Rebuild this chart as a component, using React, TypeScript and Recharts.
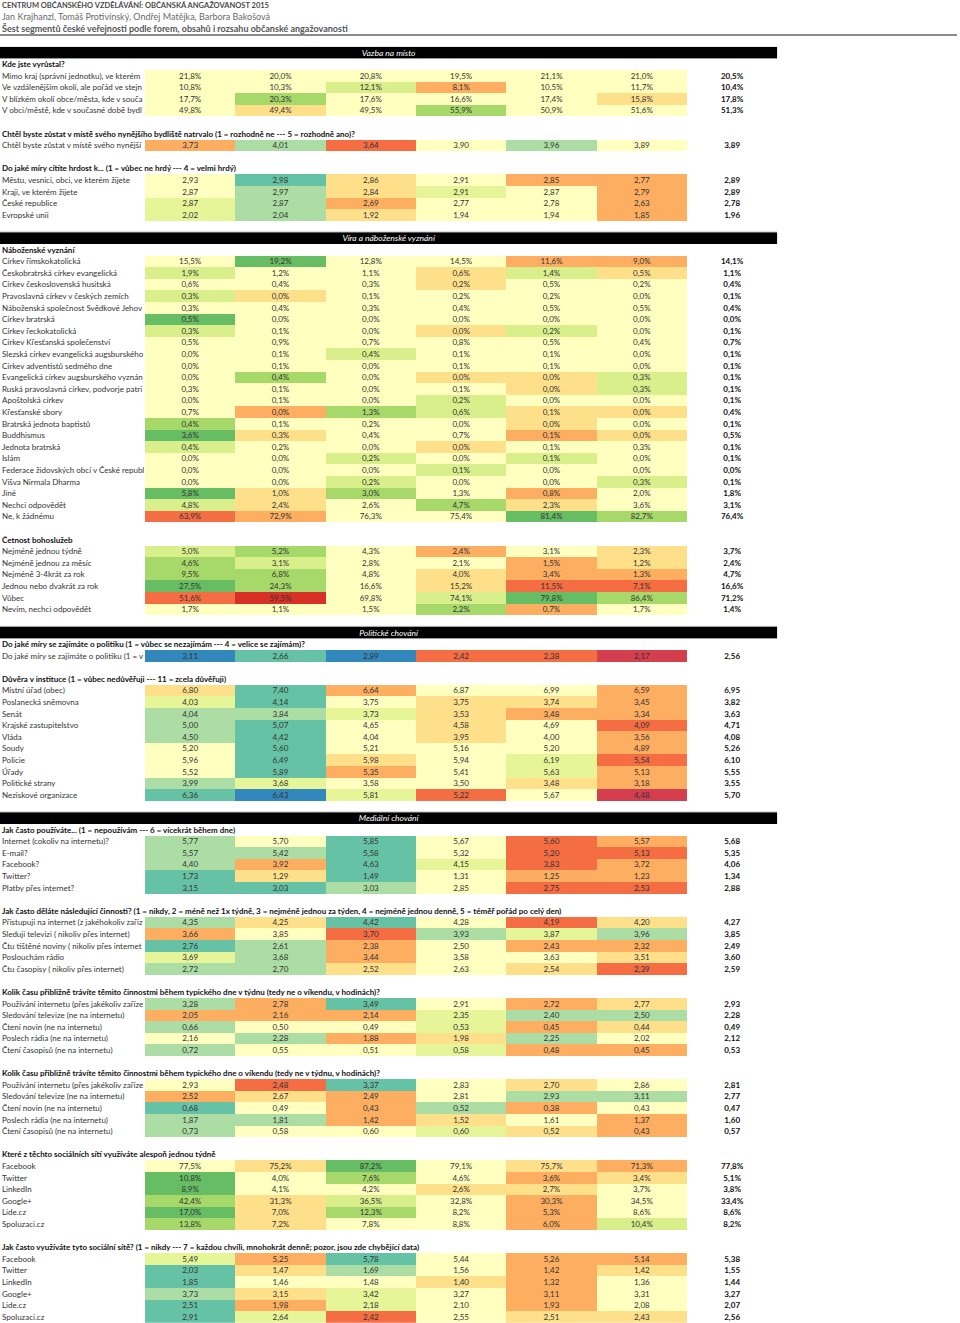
import React from 'react';
import { ScatterChart, Scatter, XAxis, YAxis } from 'recharts';

const FONT = 'Lato, "Noto Sans", sans-serif';

// Row labels are kept as the sheet shows them (cut at the first cell).

// ---- Vazba na místo
const grewUpLabels = [
  'Mimo kraj (správní jednotku), ve kterém',
  'Ve vzdálenějším okolí, ale pořád ve stejn',
  'V blízkém okolí obce/města, kde v souča',
  'V obci/městě, kde v současné době bydl',
];
const grewUpValues = [
  [21.8, 20.0, 20.8, 19.5, 21.1, 21.0],
  [10.8, 10.3, 12.1, 8.1, 10.5, 11.7],
  [17.7, 20.3, 17.6, 16.6, 17.4, 15.8],
  [49.8, 49.4, 49.5, 55.9, 50.9, 51.6],
];
const grewUpTotals = [20.5, 10.4, 17.8, 51.3];
const grewUpLevels = [
  [0, 0, 0, 0, 0, 0],
  [0, 0, 1, -2, 0, 0],
  [0, 2, 0, 0, 0, -1],
  [0, -1, 0, 2, 0, 0],
];

const stayLabels = ['Chtěl byste zůstat v místě svého nynější'];
const stayValues = [[3.73, 4.01, 3.64, 3.9, 3.96, 3.89]];
const stayTotals = [3.89];
const stayLevels = [[-2, 2, -3, 0, 2, 0]];

const prideLabels = ['Městu, vesnici, obci, ve kterém žijete', 'Kraji, ve kterém žijete', 'České republice', 'Evropské unii'];
const prideValues = [
  [2.93, 2.98, 2.86, 2.91, 2.85, 2.77],
  [2.87, 2.97, 2.84, 2.91, 2.87, 2.79],
  [2.87, 2.87, 2.69, 2.77, 2.78, 2.63],
  [2.02, 2.04, 1.92, 1.94, 1.94, 1.85],
];
const prideTotals = [2.89, 2.89, 2.78, 1.96];
const prideLevels = [
  [0, 3, -1, 0, -2, -2],
  [0, 2, -1, 1, 0, -2],
  [1, 2, -2, 0, 0, -2],
  [1, 2, -1, 0, 0, -2],
];

// ---- Víra a náboženské vyznání
const faithLabels = [
  'Církev římskokatolická',
  'Českobratrská církev evangelická',
  'Církev československá husitská',
  'Pravoslavná církev v českých zemích',
  'Náboženská společnost Svědkové Jehov',
  'Církev bratrská',
  'Církev řeckokatolická',
  'Církev Křesťanská společenství',
  'Slezská církev evangelická augsburského',
  'Církev adventistů sedmého dne',
  'Evangelická církev augsburského vyznán',
  'Ruská pravoslavná církev, podvorje patri',
  'Apoštolská církev',
  'Křesťanské sbory',
  'Bratrská jednota baptistů',
  'Buddhismus',
  'Jednota bratrská',
  'Islám',
  'Federace židovských obcí v České republ',
  'Višva Nirmala Dharma',
  'Jiné',
  'Nechci odpovědět',
  'Ne, k žádnému',
];
const faithValues = [
  [15.5, 19.2, 12.8, 14.5, 11.6, 9.0],
  [1.9, 1.2, 1.1, 0.6, 1.4, 0.5],
  [0.6, 0.4, 0.3, 0.2, 0.5, 0.2],
  [0.3, 0.0, 0.1, 0.2, 0.2, 0.0],
  [0.3, 0.4, 0.3, 0.4, 0.5, 0.5],
  [0.5, 0.0, 0.0, 0.0, 0.0, 0.0],
  [0.3, 0.1, 0.0, 0.0, 0.2, 0.0],
  [0.5, 0.9, 0.7, 0.8, 0.5, 0.4],
  [0.0, 0.1, 0.4, 0.1, 0.1, 0.0],
  [0.0, 0.1, 0.0, 0.1, 0.1, 0.0],
  [0.0, 0.4, 0.0, 0.0, 0.0, 0.3],
  [0.3, 0.1, 0.0, 0.1, 0.0, 0.3],
  [0.0, 0.1, 0.0, 0.2, 0.0, 0.0],
  [0.7, 0.0, 1.3, 0.6, 0.1, 0.0],
  [0.4, 0.1, 0.2, 0.0, 0.0, 0.0],
  [3.6, 0.3, 0.4, 0.7, 0.1, 0.0],
  [0.4, 0.2, 0.0, 0.0, 0.1, 0.3],
  [0.0, 0.0, 0.2, 0.0, 0.1, 0.0],
  [0.0, 0.0, 0.0, 0.1, 0.0, 0.0],
  [0.0, 0.0, 0.2, 0.0, 0.0, 0.3],
  [5.8, 1.0, 3.0, 1.3, 0.8, 2.0],
  [4.8, 2.4, 2.6, 4.7, 2.3, 3.6],
  [63.9, 72.9, 76.3, 75.4, 81.4, 82.7],
];
const faithTotals = [14.1, 1.1, 0.4, 0.1, 0.4, 0.0, 0.1, 0.7, 0.1, 0.1, 0.1, 0.1, 0.1, 0.4, 0.1, 0.5, 0.1, 0.1, 0.0, 0.1, 1.8, 3.1, 76.4];
const faithLevels = [
  [0, 3, 0, 0, -2, -2],
  [1, 0, 0, -1, 1, -1],
  [0, 0, 0, -1, 0, 0],
  [1, -1, 0, 0, 0, 0],
  [0, 0, 0, 0, 0, 0],
  [3, 0, 0, 0, 0, 0],
  [1, 0, 0, -1, 1, 0],
  [0, 0, 0, 0, 0, 0],
  [0, 0, 1, 0, 0, 0],
  [0, 0, 0, 0, 0, 0],
  [0, 2, 0, -1, -1, 1],
  [0, 0, 0, 0, -1, 1],
  [0, 0, 0, 1, 0, 0],
  [0, -2, 2, 1, -1, -1],
  [2, 0, 0, 0, -1, 0],
  [3, -1, 0, 0, -2, -1],
  [1, 0, 0, -1, 0, 0],
  [0, 0, 1, 0, 1, 0],
  [0, 0, 0, 1, 0, 0],
  [0, 0, 1, 0, 0, 1],
  [3, -1, 2, 0, -2, 0],
  [1, -1, 0, 2, -1, 0],
  [-3, -2, 0, 0, 3, 2],
];

const serviceLabels = [
  'Nejméně jednou týdně',
  'Nejméně jednou za měsíc',
  'Nejméně 3-4krát za rok',
  'Jednou nebo dvakrát za rok',
  'Vůbec',
  'Nevím, nechci odpovědět',
];
const serviceValues = [
  [5.0, 5.2, 4.3, 2.4, 3.1, 2.3],
  [4.6, 3.1, 2.8, 2.1, 1.5, 1.2],
  [9.5, 6.8, 4.8, 4.0, 3.4, 1.3],
  [27.5, 24.3, 16.6, 15.2, 11.5, 7.1],
  [51.6, 59.5, 69.8, 74.1, 79.8, 86.4],
  [1.7, 1.1, 1.5, 2.2, 0.7, 1.7],
];
const serviceTotals = [3.7, 2.4, 4.7, 16.6, 71.2, 1.4];
const serviceLevels = [
  [1, 2, 0, -2, 0, -1],
  [2, 1, 0, 0, -2, -1],
  [2, 2, 0, -1, -2, -2],
  [3, 2, 0, -1, -3, -3],
  [-3, -4, 0, 1, 3, 2],
  [0, 0, 0, 2, -2, 0],
];

// ---- Politické chování
const politicsLabels = ['Do jaké míry se zajímáte o politiku (1 = v'];
const politicsValues = [[3.11, 2.66, 2.89, 2.42, 2.38, 2.17]];
const politicsTotals = [2.56];
const politicsLevels = [[4, 3, 4, -3, -3, -4]];

const trustLabels = [
  'Místní úřad (obec)',
  'Poslanecká sněmovna',
  'Senát',
  'Krajské zastupitelstvo',
  'Vláda',
  'Soudy',
  'Policie',
  'Úřady',
  'Politické strany',
  'Neziskové organizace',
];
const trustValues = [
  [6.8, 7.4, 6.64, 6.87, 6.99, 6.59],
  [4.03, 4.14, 3.75, 3.75, 3.74, 3.45],
  [4.04, 3.84, 3.73, 3.53, 3.48, 3.34],
  [5.0, 5.07, 4.65, 4.58, 4.69, 4.09],
  [4.5, 4.42, 4.04, 3.95, 4.0, 3.56],
  [5.2, 5.6, 5.21, 5.16, 5.2, 4.89],
  [5.96, 6.49, 5.98, 5.94, 6.19, 5.54],
  [5.52, 5.89, 5.35, 5.41, 5.63, 5.13],
  [3.99, 3.68, 3.58, 3.5, 3.48, 3.18],
  [6.36, 6.43, 5.81, 5.22, 5.67, 4.48],
];
const trustTotals = [6.95, 3.82, 3.63, 4.71, 4.08, 5.26, 6.1, 5.55, 3.55, 5.7];
const trustLevels = [
  [-1, 3, -2, 0, 0, -2],
  [1, 3, 0, -1, -1, -2],
  [2, 2, 1, -1, -2, -2],
  [2, 3, 0, -1, 0, -3],
  [2, 3, 0, -1, 0, -2],
  [0, 3, 0, 0, 0, -2],
  [0, 3, -1, 0, 1, -3],
  [0, 3, -2, 0, 1, -2],
  [2, 1, 0, 0, -1, -2],
  [3, 4, 1, -3, 0, -4],
];

// ---- Mediální chování
const useLabels = ['Internet (cokoliv na internetu)?', 'E-mail?', 'Facebook?', 'Twitter?', 'Platby přes internet?'];
const useValues = [
  [5.77, 5.7, 5.85, 5.67, 5.6, 5.57],
  [5.57, 5.42, 5.58, 5.32, 5.2, 5.13],
  [4.4, 3.92, 4.63, 4.15, 3.83, 3.72],
  [1.73, 1.29, 1.49, 1.31, 1.25, 1.23],
  [3.15, 3.03, 3.03, 2.85, 2.75, 2.53],
];
const useTotals = [5.68, 5.35, 4.06, 1.34, 2.88];
const useLevels = [
  [2, 0, 3, 0, -3, -2],
  [2, 2, 3, 0, -3, -3],
  [2, -2, 3, 1, -3, -2],
  [3, -1, 3, 0, -2, -2],
  [3, 3, 2, 0, -3, -3],
];

const activityLabels = [
  'Přistupuji na internet (z jakéhokoliv zaříz',
  'Sleduji televizi ( nikoliv přes internet)',
  'Čtu tištěné noviny ( nikoliv přes internet',
  'Poslouchám rádio',
  'Čtu časopisy ( nikoliv přes internet)',
];
const activityValues = [
  [4.35, 4.25, 4.42, 4.28, 4.19, 4.2],
  [3.66, 3.85, 3.7, 3.93, 3.87, 3.96],
  [2.76, 2.61, 2.38, 2.5, 2.43, 2.32],
  [3.69, 3.68, 3.44, 3.58, 3.63, 3.51],
  [2.72, 2.7, 2.52, 2.63, 2.54, 2.39],
];
const activityTotals = [4.27, 3.85, 2.49, 3.6, 2.59];
const activityLevels = [
  [2, -1, 3, 0, -3, -1],
  [-2, 0, -3, 2, 1, 2],
  [3, 2, -2, 0, -2, -2],
  [1, 2, -2, 0, 0, -1],
  [2, 2, -1, 0, -1, -3],
];

const timeLabels = [
  'Používání internetu (přes jakékoliv zaříze',
  'Sledování televize (ne na internetu)',
  'Čtení novin (ne na internetu)',
  'Poslech rádia (ne na internetu)',
  'Čtení časopisů (ne na internetu)',
];
const weekdayValues = [
  [3.28, 2.78, 3.49, 2.91, 2.72, 2.77],
  [2.05, 2.16, 2.14, 2.35, 2.4, 2.5],
  [0.66, 0.5, 0.49, 0.53, 0.45, 0.44],
  [2.16, 2.28, 1.88, 1.98, 2.25, 2.02],
  [0.72, 0.55, 0.51, 0.58, 0.48, 0.45],
];
const weekdayTotals = [2.93, 2.28, 0.49, 2.12, 0.53];
const weekdayLevels = [
  [2, -2, 3, 0, -2, -1],
  [-2, -2, -2, 1, 2, 2],
  [2, 0, 0, 1, -2, -1],
  [0, 2, -2, -1, 2, 0],
  [2, 0, 0, 1, -2, -2],
];

const weekendValues = [
  [2.93, 2.48, 3.37, 2.83, 2.7, 2.86],
  [2.52, 2.67, 2.49, 2.81, 2.93, 3.11],
  [0.68, 0.49, 0.43, 0.52, 0.38, 0.43],
  [1.87, 1.81, 1.42, 1.52, 1.61, 1.37],
  [0.73, 0.58, 0.6, 0.6, 0.52, 0.43],
];
const weekendTotals = [2.81, 2.77, 0.47, 1.6, 0.57];
const weekendLevels = [
  [0, -3, 3, 0, -1, 0],
  [-2, -1, -2, 0, 2, 2],
  [3, 0, -2, 2, -2, 0],
  [2, 2, -2, -1, 0, -2],
  [2, 0, 0, 1, -1, -2],
];

const networkLabels = ['Facebook', 'Twitter', 'LinkedIn', 'Google+', 'Lide.cz', 'Spoluzaci.cz'];
const weeklyValues = [
  [77.5, 75.2, 87.2, 79.1, 75.7, 71.3],
  [10.8, 4.0, 7.6, 4.6, 3.6, 3.4],
  [8.9, 4.1, 4.2, 2.6, 2.7, 3.7],
  [42.4, 31.3, 36.5, 32.8, 30.3, 34.5],
  [17.0, 7.0, 12.3, 8.2, 5.3, 8.6],
  [13.8, 7.2, 7.8, 8.8, 6.0, 10.4],
];
const weeklyTotals = [77.8, 5.1, 3.8, 33.4, 8.6, 8.2];
const weeklyLevels = [
  [0, -1, 3, 0, -1, -2],
  [3, 0, 2, 0, -2, -1],
  [3, 0, 0, -1, -1, 0],
  [2, -1, 1, 0, -2, 0],
  [3, -1, 2, 0, -2, 0],
  [2, -1, 0, 0, -2, 1],
];

const freqValues = [
  [5.49, 5.25, 5.78, 5.44, 5.26, 5.14],
  [2.03, 1.47, 1.69, 1.56, 1.42, 1.42],
  [1.85, 1.46, 1.48, 1.4, 1.32, 1.36],
  [3.73, 3.15, 3.42, 3.27, 3.11, 3.31],
  [2.51, 1.98, 2.18, 2.1, 1.93, 2.08],
  [2.91, 2.64, 2.42, 2.55, 2.51, 2.43],
];
const freqTotals = [5.38, 1.55, 1.44, 3.27, 2.07, 2.56];
const freqLevels = [
  [1, -2, 3, 0, -2, -2],
  [3, -1, 2, 0, -2, -1],
  [3, 0, 0, -1, -2, 0],
  [2, -1, 1, 0, -2, 0],
  [3, -2, 1, 0, -2, 0],
  [3, 1, -3, 0, -1, -1],
];

type Block = {
  section?: string;
  title: string;
  pct: boolean;
  labels: string[];
  values: number[][];
  totals: number[];
  levels: number[][];
};

const blocks: Block[] = [
  { section: 'Vazba na místo', title: 'Kde jste vyrůstal?', pct: true, labels: grewUpLabels, values: grewUpValues, totals: grewUpTotals, levels: grewUpLevels },
  { title: 'Chtěl byste zůstat v místě svého nynějšího bydliště natrvalo (1 = rozhodně ne --- 5 = rozhodně ano)?', pct: false, labels: stayLabels, values: stayValues, totals: stayTotals, levels: stayLevels },
  { title: 'Do jaké míry cítíte hrdost k... (1 = vůbec ne hrdý --- 4 = velmi hrdý)', pct: false, labels: prideLabels, values: prideValues, totals: prideTotals, levels: prideLevels },
  { section: 'Víra a náboženské vyznání', title: 'Náboženské vyznání', pct: true, labels: faithLabels, values: faithValues, totals: faithTotals, levels: faithLevels },
  { title: 'Četnost bohoslužeb', pct: true, labels: serviceLabels, values: serviceValues, totals: serviceTotals, levels: serviceLevels },
  { section: 'Politické chování', title: 'Do jaké míry se zajímáte o politiku (1 = vůbec se nezajímám --- 4 = velice se zajímám)?', pct: false, labels: politicsLabels, values: politicsValues, totals: politicsTotals, levels: politicsLevels },
  { title: 'Důvěra v instituce (1 = vůbec nedůvěřuji --- 11 = zcela důvěřuji)', pct: false, labels: trustLabels, values: trustValues, totals: trustTotals, levels: trustLevels },
  { section: 'Mediální chování', title: 'Jak často používáte... (1 = nepoužívám --- 6 = vícekrát během dne)', pct: false, labels: useLabels, values: useValues, totals: useTotals, levels: useLevels },
  { title: 'Jak často děláte následující činnosti? (1 = nikdy, 2 = méně než 1x týdně, 3 = nejméně jednou za týden, 4 = nejméně jednou denně, 5 = téměř pořád po celý den)', pct: false, labels: activityLabels, values: activityValues, totals: activityTotals, levels: activityLevels },
  { title: 'Kolik času přibližně trávíte těmito činnostmi během typického dne v týdnu (tedy ne o víkendu, v hodinách)?', pct: false, labels: timeLabels, values: weekdayValues, totals: weekdayTotals, levels: weekdayLevels },
  { title: 'Kolik času přibližně trávíte těmito činnostmi během typického dne o víkendu (tedy ne v týdnu, v hodinách)?', pct: false, labels: timeLabels, values: weekendValues, totals: weekendTotals, levels: weekendLevels },
  { title: 'Které z těchto sociálních sítí využíváte alespoň jednou týdně', pct: true, labels: networkLabels, values: weeklyValues, totals: weeklyTotals, levels: weeklyLevels },
  { title: 'Jak často využíváte tyto sociální sítě? (1 = nikdy --- 7 = každou chvíli, mnohokrát denně; pozor, jsou zde chybějící data)', pct: false, labels: networkLabels, values: freqValues, totals: freqTotals, levels: freqLevels },
];

// RdYlGn for shares, Spectral for means
const PCT_COLORS: Record<number, string> = {
  [-4]: '#d73027', [-3]: '#f46d43', [-2]: '#fdae61', [-1]: '#fee08b', 0: '#ffffbf',
  1: '#d9ef8b', 2: '#a6d96a', 3: '#66bd63', 4: '#1a9850',
};
const MEAN_COLORS: Record<number, string> = {
  [-4]: '#d53e4f', [-3]: '#f46d43', [-2]: '#fdae61', [-1]: '#fee08b', 0: '#ffffbf',
  1: '#e6f598', 2: '#abdda4', 3: '#66c2a5', 4: '#3288bd',
};

const fmt = (v: number, pct: boolean) =>
  pct ? v.toFixed(1).replace('.', ',') + '%' : v.toFixed(2).replace('.', ',');

// layout
const W = 960;
const H = 1323;
const TOP = 46.8;
const ROW_H = 11.6;
const LABEL_W = 145;
const COL_W = 90.33;
const PLOT_W = LABEL_W + 7 * COL_W;
const X_MIN = -LABEL_W / COL_W;
const FS = 8;

type Pt = { x: number; y: number; text: string; fill?: string; bold?: boolean };

const sectionPts: Pt[] = [];
const labelPts: Pt[] = [];
const cellPts: Pt[] = [];
const totalPts: Pt[] = [];
let r = 0;
blocks.forEach((b, bi) => {
  if (b.section) sectionPts.push({ x: X_MIN, y: r++, text: b.section });
  labelPts.push({ x: X_MIN, y: r++, text: b.title, bold: true });
  b.labels.forEach((label, li) => {
    labelPts.push({ x: X_MIN, y: r, text: label });
    b.values[li].forEach((v, ci) => {
      const pal = b.pct ? PCT_COLORS : MEAN_COLORS;
      cellPts.push({ x: ci + 0.5, y: r, text: fmt(v, b.pct), fill: pal[b.levels[li][ci]] });
    });
    totalPts.push({ x: 6.5, y: r, text: fmt(b.totals[li], b.pct) });
    r++;
  });
  if (bi < blocks.length - 1) r++;
});
const ROWS = r;

const SectionShape = (p: any) => (
  <g>
    <rect x={p.cx} y={p.cy - ROW_H / 2 - 1} width={PLOT_W} height={1} fill="#c8c8c8" />
    <rect x={p.cx} y={p.cy - ROW_H / 2} width={PLOT_W} height={ROW_H} fill="#000" />
    <text x={p.cx + PLOT_W / 2} y={p.cy} dy="0.35em" textAnchor="middle" fill="#fff" fontStyle="italic" fontSize={FS + 0.5} fontFamily={FONT}>
      {p.payload.text}
    </text>
  </g>
);

const LabelShape = (p: any) => {
  const { cx, cy, payload } = p;
  if (payload.bold) {
    return (
      <text x={cx + 2} y={cy} dy="0.35em" fontSize={FS} fontWeight="bold" fill="#111" fontFamily={FONT}>
        {payload.text}
      </text>
    );
  }
  return (
    <svg x={cx} y={cy - ROW_H / 2} width={LABEL_W} height={ROW_H} overflow="hidden">
      <text x={2} y={ROW_H / 2} dy="0.35em" fontSize={FS} fill="#333" fontFamily={FONT}>
        {payload.text}
      </text>
    </svg>
  );
};

const CellShape = (p: any) => (
  <g>
    <rect x={p.cx - COL_W / 2} y={p.cy - ROW_H / 2} width={COL_W} height={ROW_H} fill={p.payload.fill} shapeRendering="crispEdges" />
    <text x={p.cx} y={p.cy} dy="0.35em" textAnchor="middle" fontSize={FS} fill="#333" fontFamily={FONT}>
      {p.payload.text}
    </text>
  </g>
);

const TotalShape = (p: any) => (
  <text x={p.cx} y={p.cy} dy="0.35em" textAnchor="middle" fontSize={FS} fontWeight="bold" fill="#111" fontFamily={FONT}>
    {p.payload.text}
  </text>
);

export default function App() {
  return (
    <div style={{ position: 'relative', width: W, height: H, background: '#fff', fontFamily: FONT }}>
      <style>{'body{margin:0}'}</style>
      <div style={{ position: 'absolute', left: 2, top: 0, fontSize: 7.5, lineHeight: '12px', fontWeight: 'bold', color: '#4a4a4a' }}>
        CENTRUM OBČANSKÉHO VZDĚLÁVÁNÍ: OBČANSKÁ ANGAŽOVANOST 2015
      </div>
      <div style={{ position: 'absolute', left: 2, top: 11, fontSize: 9, lineHeight: '12px', color: '#6a6a6a' }}>
        Jan Krajhanzl, Tomáš Protivínský, Ondřej Matějka, Barbora Bakošová
      </div>
      <div style={{ position: 'absolute', left: 2, top: 23, fontSize: 9, lineHeight: '12px', fontWeight: 'bold', color: '#555' }}>
        Šest segmentů české veřejnosti podle forem, obsahů i rozsahu občanské angažovanosti
      </div>
      <div style={{ position: 'absolute', left: 0, top: 34, width: 957, height: 1.5, background: '#8c8c8c' }} />
      <div style={{ position: 'absolute', left: 0, top: 0 }}>
        <ScatterChart width={W} height={H} margin={{ top: TOP, right: W - PLOT_W, bottom: H - TOP - ROWS * ROW_H, left: 0 }}>
          <XAxis type="number" dataKey="x" domain={[X_MIN, 7]} allowDataOverflow hide />
          <YAxis type="number" dataKey="y" domain={[-0.5, ROWS - 0.5]} allowDataOverflow reversed hide />
          <Scatter data={cellPts} shape={CellShape} isAnimationActive={false} />
          <Scatter data={totalPts} shape={TotalShape} isAnimationActive={false} />
          <Scatter data={labelPts} shape={LabelShape} isAnimationActive={false} />
          <Scatter data={sectionPts} shape={SectionShape} isAnimationActive={false} />
        </ScatterChart>
      </div>
    </div>
  );
}
